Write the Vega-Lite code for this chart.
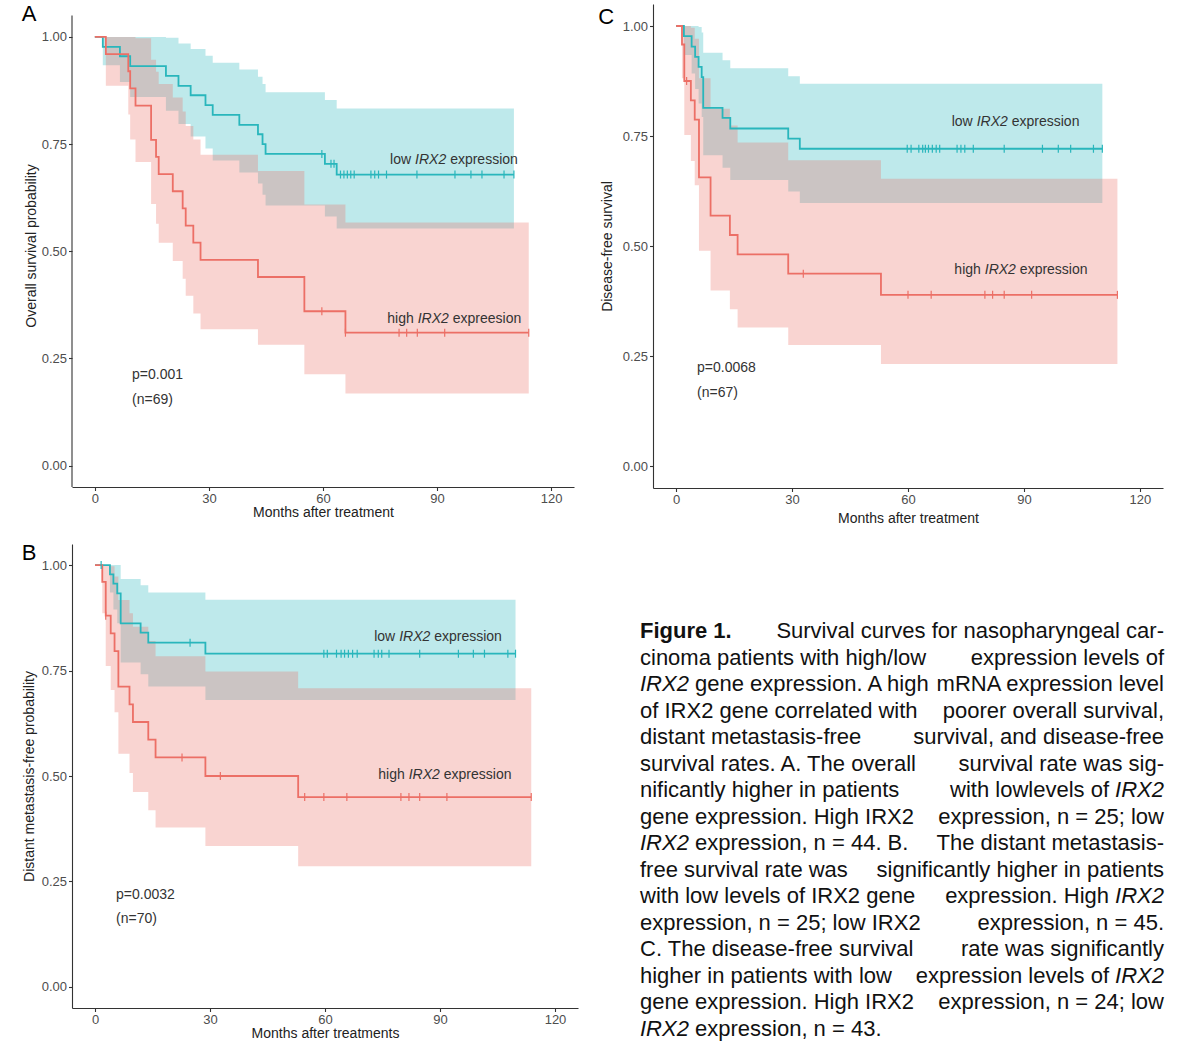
{
  "$schema": "https://vega.github.io/schema/vega-lite/v6.json",
  "background": "white",
  "padding": {"left": 21, "top": 2, "right": 5, "bottom": 5},
  "autosize": {"type": "pad"},
  "config": {
    "view": {"stroke": null},
    "axis": {"grid": false, "domainColor": "#333333", "domainWidth": 1.1, "tickColor": "#333333", "tickWidth": 1.1, "tickSize": 3.5,
      "labelFont": "Liberation Sans", "labelFontSize": 13, "labelColor": "#4d4d4d", "labelPadding": 2,
      "titleFont": "Liberation Sans", "titleFontSize": 14, "titleFontWeight": "normal", "titleColor": "#222222"},
    "text": {"font": "Liberation Sans"}
  },
  "datasets": {
    "km": [
      {"p":"A","g":"low","t":0,"s":1,"lo":1,"hi":1},
      {"p":"A","g":"low","t":2.1,"s":0.977,"lo":0.934,"hi":1},
      {"p":"A","g":"low","t":6.6,"s":0.955,"lo":0.895,"hi":1},
      {"p":"A","g":"low","t":9.3,"s":0.932,"lo":0.86,"hi":1},
      {"p":"A","g":"low","t":18.7,"s":0.909,"lo":0.828,"hi":0.998},
      {"p":"A","g":"low","t":22.0,"s":0.886,"lo":0.797,"hi":0.985},
      {"p":"A","g":"low","t":25.2,"s":0.864,"lo":0.768,"hi":0.972},
      {"p":"A","g":"low","t":29.1,"s":0.841,"lo":0.74,"hi":0.956},
      {"p":"A","g":"low","t":31.0,"s":0.818,"lo":0.712,"hi":0.94},
      {"p":"A","g":"low","t":38.0,"s":0.795,"lo":0.684,"hi":0.924},
      {"p":"A","g":"low","t":42.9,"s":0.773,"lo":0.658,"hi":0.907},
      {"p":"A","g":"low","t":44.1,"s":0.75,"lo":0.632,"hi":0.89},
      {"p":"A","g":"low","t":44.9,"s":0.727,"lo":0.607,"hi":0.871},
      {"p":"A","g":"low","t":60.5,"s":0.704,"lo":0.581,"hi":0.853},
      {"p":"A","g":"low","t":63.6,"s":0.679,"lo":0.553,"hi":0.833},
      {"p":"A","g":"low","t":110.2,"s":0.679,"lo":0.553,"hi":0.833},
      {"p":"A","g":"high","t":0,"s":1,"lo":1,"hi":1},
      {"p":"A","g":"high","t":2.9,"s":0.96,"lo":0.886,"hi":1},
      {"p":"A","g":"high","t":8.8,"s":0.92,"lo":0.819,"hi":1},
      {"p":"A","g":"high","t":9.3,"s":0.88,"lo":0.761,"hi":1},
      {"p":"A","g":"high","t":10.7,"s":0.84,"lo":0.708,"hi":0.997},
      {"p":"A","g":"high","t":14.8,"s":0.76,"lo":0.61,"hi":0.947},
      {"p":"A","g":"high","t":16.1,"s":0.72,"lo":0.564,"hi":0.919},
      {"p":"A","g":"high","t":16.8,"s":0.68,"lo":0.52,"hi":0.89},
      {"p":"A","g":"high","t":20.5,"s":0.64,"lo":0.477,"hi":0.859},
      {"p":"A","g":"high","t":23.1,"s":0.6,"lo":0.436,"hi":0.826},
      {"p":"A","g":"high","t":23.9,"s":0.56,"lo":0.396,"hi":0.792},
      {"p":"A","g":"high","t":25.9,"s":0.52,"lo":0.355,"hi":0.761},
      {"p":"A","g":"high","t":27.8,"s":0.48,"lo":0.318,"hi":0.725},
      {"p":"A","g":"high","t":42.9,"s":0.44,"lo":0.282,"hi":0.687},
      {"p":"A","g":"high","t":55.1,"s":0.36,"lo":0.213,"hi":0.609},
      {"p":"A","g":"high","t":65.9,"s":0.31,"lo":0.168,"hi":0.567},
      {"p":"A","g":"high","t":114.1,"s":0.31,"lo":0.168,"hi":0.567},
      {"p":"B","g":"low","t":0,"s":1,"lo":1,"hi":1},
      {"p":"B","g":"low","t":3.9,"s":0.978,"lo":0.935,"hi":1},
      {"p":"B","g":"low","t":4.8,"s":0.956,"lo":0.895,"hi":1},
      {"p":"B","g":"low","t":5.8,"s":0.933,"lo":0.862,"hi":1},
      {"p":"B","g":"low","t":6.7,"s":0.862,"lo":0.769,"hi":0.967},
      {"p":"B","g":"low","t":11.9,"s":0.84,"lo":0.741,"hi":0.952},
      {"p":"B","g":"low","t":13.9,"s":0.816,"lo":0.712,"hi":0.935},
      {"p":"B","g":"low","t":28.8,"s":0.79,"lo":0.68,"hi":0.918},
      {"p":"B","g":"low","t":109.7,"s":0.79,"lo":0.68,"hi":0.918},
      {"p":"B","g":"high","t":0,"s":1,"lo":1,"hi":1},
      {"p":"B","g":"high","t":1.9,"s":0.96,"lo":0.886,"hi":1},
      {"p":"B","g":"high","t":2.8,"s":0.88,"lo":0.761,"hi":1},
      {"p":"B","g":"high","t":4.1,"s":0.838,"lo":0.704,"hi":0.997},
      {"p":"B","g":"high","t":5.1,"s":0.796,"lo":0.651,"hi":0.973},
      {"p":"B","g":"high","t":6.1,"s":0.712,"lo":0.553,"hi":0.917},
      {"p":"B","g":"high","t":9.0,"s":0.67,"lo":0.507,"hi":0.886},
      {"p":"B","g":"high","t":9.9,"s":0.628,"lo":0.462,"hi":0.854},
      {"p":"B","g":"high","t":13.9,"s":0.586,"lo":0.419,"hi":0.82},
      {"p":"B","g":"high","t":15.8,"s":0.544,"lo":0.378,"hi":0.784},
      {"p":"B","g":"high","t":28.8,"s":0.5,"lo":0.334,"hi":0.748},
      {"p":"B","g":"high","t":53.0,"s":0.45,"lo":0.286,"hi":0.708},
      {"p":"B","g":"high","t":113.8,"s":0.45,"lo":0.286,"hi":0.708},
      {"p":"C","g":"low","t":0,"s":1,"lo":1,"hi":1},
      {"p":"C","g":"low","t":2.0,"s":0.977,"lo":0.934,"hi":1},
      {"p":"C","g":"low","t":4.0,"s":0.953,"lo":0.892,"hi":1},
      {"p":"C","g":"low","t":4.9,"s":0.93,"lo":0.857,"hi":1},
      {"p":"C","g":"low","t":5.8,"s":0.907,"lo":0.824,"hi":0.998},
      {"p":"C","g":"low","t":6.6,"s":0.884,"lo":0.793,"hi":0.985},
      {"p":"C","g":"low","t":7.0,"s":0.814,"lo":0.706,"hi":0.939},
      {"p":"C","g":"low","t":12.0,"s":0.791,"lo":0.678,"hi":0.922},
      {"p":"C","g":"low","t":14.0,"s":0.767,"lo":0.65,"hi":0.904},
      {"p":"C","g":"low","t":29.0,"s":0.744,"lo":0.624,"hi":0.886},
      {"p":"C","g":"low","t":32.0,"s":0.721,"lo":0.598,"hi":0.869},
      {"p":"C","g":"low","t":110.3,"s":0.721,"lo":0.598,"hi":0.869},
      {"p":"C","g":"high","t":0,"s":1,"lo":1,"hi":1},
      {"p":"C","g":"high","t":1.5,"s":0.958,"lo":0.881,"hi":1},
      {"p":"C","g":"high","t":2.1,"s":0.875,"lo":0.752,"hi":1},
      {"p":"C","g":"high","t":3.8,"s":0.831,"lo":0.693,"hi":0.996},
      {"p":"C","g":"high","t":4.8,"s":0.787,"lo":0.638,"hi":0.971},
      {"p":"C","g":"high","t":5.9,"s":0.656,"lo":0.489,"hi":0.881},
      {"p":"C","g":"high","t":8.9,"s":0.569,"lo":0.399,"hi":0.812},
      {"p":"C","g":"high","t":13.9,"s":0.525,"lo":0.356,"hi":0.774},
      {"p":"C","g":"high","t":15.9,"s":0.481,"lo":0.315,"hi":0.735},
      {"p":"C","g":"high","t":29.0,"s":0.437,"lo":0.275,"hi":0.695},
      {"p":"C","g":"high","t":53.0,"s":0.389,"lo":0.232,"hi":0.653},
      {"p":"C","g":"high","t":114.2,"s":0.389,"lo":0.232,"hi":0.653}
    ],
    "cens": [
      {"p":"A","g":"low","t":59.7,"s":0.727},
      {"p":"A","g":"low","t":62.1,"s":0.704},
      {"p":"A","g":"low","t":62.9,"s":0.704},
      {"p":"A","g":"low","t":64.6,"s":0.679},
      {"p":"A","g":"low","t":65.5,"s":0.679},
      {"p":"A","g":"low","t":66.4,"s":0.679},
      {"p":"A","g":"low","t":67.3,"s":0.679},
      {"p":"A","g":"low","t":68.2,"s":0.679},
      {"p":"A","g":"low","t":72.6,"s":0.679},
      {"p":"A","g":"low","t":73.6,"s":0.679},
      {"p":"A","g":"low","t":74.6,"s":0.679},
      {"p":"A","g":"low","t":76.7,"s":0.679},
      {"p":"A","g":"low","t":84.7,"s":0.679},
      {"p":"A","g":"low","t":94.7,"s":0.679},
      {"p":"A","g":"low","t":98.9,"s":0.679},
      {"p":"A","g":"low","t":101.8,"s":0.679},
      {"p":"A","g":"low","t":107.6,"s":0.679},
      {"p":"A","g":"low","t":110.2,"s":0.679},
      {"p":"A","g":"high","t":59.7,"s":0.36},
      {"p":"A","g":"high","t":65.9,"s":0.31},
      {"p":"A","g":"high","t":80.0,"s":0.31},
      {"p":"A","g":"high","t":82.0,"s":0.31},
      {"p":"A","g":"high","t":84.8,"s":0.31},
      {"p":"A","g":"high","t":92.0,"s":0.31},
      {"p":"A","g":"high","t":114.1,"s":0.31},
      {"p":"B","g":"low","t":1.6,"s":1},
      {"p":"B","g":"low","t":24.8,"s":0.816},
      {"p":"B","g":"low","t":59.7,"s":0.79},
      {"p":"B","g":"low","t":60.6,"s":0.79},
      {"p":"B","g":"low","t":63.0,"s":0.79},
      {"p":"B","g":"low","t":64.2,"s":0.79},
      {"p":"B","g":"low","t":65.1,"s":0.79},
      {"p":"B","g":"low","t":66.1,"s":0.79},
      {"p":"B","g":"low","t":67.2,"s":0.79},
      {"p":"B","g":"low","t":68.4,"s":0.79},
      {"p":"B","g":"low","t":72.8,"s":0.79},
      {"p":"B","g":"low","t":73.9,"s":0.79},
      {"p":"B","g":"low","t":74.8,"s":0.79},
      {"p":"B","g":"low","t":76.7,"s":0.79},
      {"p":"B","g":"low","t":84.7,"s":0.79},
      {"p":"B","g":"low","t":94.8,"s":0.79},
      {"p":"B","g":"low","t":98.7,"s":0.79},
      {"p":"B","g":"low","t":101.6,"s":0.79},
      {"p":"B","g":"low","t":107.7,"s":0.79},
      {"p":"B","g":"low","t":109.7,"s":0.79},
      {"p":"B","g":"high","t":2.8,"s":0.88},
      {"p":"B","g":"high","t":22.7,"s":0.544},
      {"p":"B","g":"high","t":32.7,"s":0.5},
      {"p":"B","g":"high","t":54.7,"s":0.45},
      {"p":"B","g":"high","t":59.7,"s":0.45},
      {"p":"B","g":"high","t":65.7,"s":0.45},
      {"p":"B","g":"high","t":79.8,"s":0.45},
      {"p":"B","g":"high","t":81.9,"s":0.45},
      {"p":"B","g":"high","t":84.7,"s":0.45},
      {"p":"B","g":"high","t":91.8,"s":0.45},
      {"p":"B","g":"high","t":113.8,"s":0.45},
      {"p":"C","g":"low","t":59.8,"s":0.721},
      {"p":"C","g":"low","t":60.8,"s":0.721},
      {"p":"C","g":"low","t":62.8,"s":0.721},
      {"p":"C","g":"low","t":63.8,"s":0.721},
      {"p":"C","g":"low","t":64.5,"s":0.721},
      {"p":"C","g":"low","t":65.3,"s":0.721},
      {"p":"C","g":"low","t":66.3,"s":0.721},
      {"p":"C","g":"low","t":67.3,"s":0.721},
      {"p":"C","g":"low","t":68.2,"s":0.721},
      {"p":"C","g":"low","t":72.7,"s":0.721},
      {"p":"C","g":"low","t":73.7,"s":0.721},
      {"p":"C","g":"low","t":74.7,"s":0.721},
      {"p":"C","g":"low","t":76.9,"s":0.721},
      {"p":"C","g":"low","t":84.9,"s":0.721},
      {"p":"C","g":"low","t":94.8,"s":0.721},
      {"p":"C","g":"low","t":98.9,"s":0.721},
      {"p":"C","g":"low","t":102.1,"s":0.721},
      {"p":"C","g":"low","t":108.0,"s":0.721},
      {"p":"C","g":"low","t":110.3,"s":0.721},
      {"p":"C","g":"high","t":2.7,"s":0.875},
      {"p":"C","g":"high","t":32.9,"s":0.437},
      {"p":"C","g":"high","t":60.0,"s":0.389},
      {"p":"C","g":"high","t":66.0,"s":0.389},
      {"p":"C","g":"high","t":79.9,"s":0.389},
      {"p":"C","g":"high","t":81.9,"s":0.389},
      {"p":"C","g":"high","t":84.9,"s":0.389},
      {"p":"C","g":"high","t":92.0,"s":0.389},
      {"p":"C","g":"high","t":114.2,"s":0.389}
    ],
    "lab": [
      {"p":"A","t":88.3,"s":0.712,"pre":"low","post":"expression"},
      {"p":"A","t":89.0,"s":0.343,"pre":"high","post":"expreesion"},
      {"p":"B","t":83.4,"s":0.829,"pre":"low","post":"expression"},
      {"p":"B","t":85.9,"s":0.502,"pre":"high","post":"expression"},
      {"p":"C","t":81.8,"s":0.782,"pre":"low","post":"expression"},
      {"p":"C","t":83.9,"s":0.445,"pre":"high","post":"expression"}
    ],
    "pv": [
      {"p":"A","t":9.8,"s":0.212,"text":"p=0.001"},
      {"p":"A","t":9.8,"s":0.154,"text":"(n=69)"},
      {"p":"B","t":5.5,"s":0.218,"text":"p=0.0032"},
      {"p":"B","t":5.5,"s":0.161,"text":"(n=70)"},
      {"p":"C","t":5.4,"s":0.223,"text":"p=0.0068"},
      {"p":"C","t":5.4,"s":0.166,"text":"(n=67)"}
    ],
    "let": [
      {"p":"A","t":-17.3,"s":1.054,"text":"A"},
      {"p":"B","t":-17.2,"s":1.028,"text":"B"},
      {"p":"C","t":-18.1,"s":1.02,"text":"C"}
    ],
    "capB": [{"line":1,"text":"Figure 1."}],
    "capL": [
      {"line":2,"text":"cinoma patients with high/low"},
      {"line":4,"text":"of IRX2 gene correlated with"},
      {"line":5,"text":"distant metastasis-free"},
      {"line":6,"text":"survival rates. A. The overall"},
      {"line":7,"text":"nificantly higher in patients"},
      {"line":8,"text":"gene expression. High IRX2"},
      {"line":10,"text":"free survival rate was"},
      {"line":11,"text":"with low levels of IRX2 gene"},
      {"line":12,"text":"expression, n = 25; low IRX2"},
      {"line":13,"text":"C. The disease-free survival"},
      {"line":14,"text":"higher in patients with low"},
      {"line":15,"text":"gene expression. High IRX2"}
    ],
    "capR": [
      {"line":1,"text":"Survival curves for nasopharyngeal car-"},
      {"line":2,"text":"expression levels of"},
      {"line":3,"text":"mRNA expression level"},
      {"line":4,"text":"poorer overall survival,"},
      {"line":5,"text":"survival, and disease-free"},
      {"line":6,"text":"survival rate was sig-"},
      {"line":8,"text":"expression, n = 25; low"},
      {"line":9,"text":"The distant metastasis-"},
      {"line":10,"text":"significantly higher in patients"},
      {"line":12,"text":"expression, n = 45."},
      {"line":13,"text":"rate was significantly"},
      {"line":15,"text":"expression, n = 24; low"}
    ],
    "capLI": [{"line":3,"text":"IRX2"},{"line":9,"text":"IRX2"},{"line":16,"text":"IRX2"}],
    "capL2": [
      {"line":3,"text":"gene expression. A high"},
      {"line":9,"text":"expression, n = 44. B."},
      {"line":16,"text":"expression, n = 43."}
    ],
    "capR2": [
      {"line":7,"text":"with lowlevels of"},
      {"line":11,"text":"expression. High"},
      {"line":14,"text":"expression levels of"}
    ],
    "capRI": [{"line":7,"text":"IRX2"},{"line":11,"text":"IRX2"},{"line":14,"text":"IRX2"}]
  },
  "vconcat": [
    {
      "hconcat": [
        {
          "width": 502, "height": 483,
          "layer": [
            {"data": {"name": "km"}, "transform": [{"filter": "datum.p == 'A'"}],
             "mark": {"type": "area", "interpolate": "step-after", "fillOpacity": 0.3, "strokeWidth": 0},
             "encoding": {
               "x": {"field": "t", "type": "quantitative", "scale": {"domain": [-6, 126], "nice": false, "zero": false},
                     "axis": {"values": [0, 30, 60, 90, 120], "title": "Months after treatment", "titlePadding": 0}},
               "y": {"field": "lo", "type": "quantitative", "scale": {"domain": [-0.05, 1.0769], "nice": false, "zero": false},
                     "axis": {"values": [0, 0.25, 0.5, 0.75, 1], "format": ".2f", "domain": false, "title": "Overall survival probability", "titlePadding": 3}},
               "y2": {"field": "hi"},
               "color": {"field": "g", "type": "nominal", "scale": {"domain": ["high", "low"], "range": ["#EC6F66", "#29B6BC"]}, "legend": null}}},
            {"data": {"name": "km"}, "transform": [{"filter": "datum.p == 'A'"}],
             "mark": {"type": "line", "interpolate": "step-after", "strokeWidth": 1.8},
             "encoding": {
               "x": {"field": "t", "type": "quantitative", "scale": {"domain": [-6, 126], "nice": false, "zero": false}},
               "y": {"field": "s", "type": "quantitative", "scale": {"domain": [-0.05, 1.0769], "nice": false, "zero": false}},
               "color": {"field": "g", "type": "nominal", "scale": {"domain": ["high", "low"], "range": ["#EC6F66", "#29B6BC"]}, "legend": null}}},
            {"data": {"name": "cens"}, "transform": [{"filter": "datum.p == 'A'"}],
             "mark": {"type": "tick", "orient": "vertical", "size": 8, "thickness": 1.2, "opacity": 1},
             "encoding": {
               "x": {"field": "t", "type": "quantitative", "scale": {"domain": [-6, 126], "nice": false, "zero": false}},
               "y": {"field": "s", "type": "quantitative", "scale": {"domain": [-0.05, 1.0769], "nice": false, "zero": false}},
               "color": {"field": "g", "type": "nominal", "scale": {"domain": ["high", "low"], "range": ["#EC6F66", "#29B6BC"]}, "legend": null}}},
            {"data": {"name": "lab"}, "transform": [{"filter": "datum.p == 'A'"}],
             "mark": {"type": "text", "align": "right", "baseline": "middle", "dx": -19.5, "fontSize": 14, "color": "#333333"},
             "encoding": {
               "x": {"field": "t", "type": "quantitative", "scale": {"domain": [-6, 126], "nice": false, "zero": false}},
               "y": {"field": "s", "type": "quantitative", "scale": {"domain": [-0.05, 1.0769], "nice": false, "zero": false}},
               "text": {"field": "pre"}}},
            {"data": {"name": "lab"}, "transform": [{"filter": "datum.p == 'A'"}],
             "mark": {"type": "text", "align": "center", "baseline": "middle", "fontSize": 14, "fontStyle": "italic", "color": "#333333", "text": "IRX2"},
             "encoding": {
               "x": {"field": "t", "type": "quantitative", "scale": {"domain": [-6, 126], "nice": false, "zero": false}},
               "y": {"field": "s", "type": "quantitative", "scale": {"domain": [-0.05, 1.0769], "nice": false, "zero": false}}}},
            {"data": {"name": "lab"}, "transform": [{"filter": "datum.p == 'A'"}],
             "mark": {"type": "text", "align": "left", "baseline": "middle", "dx": 19.5, "fontSize": 14, "color": "#333333"},
             "encoding": {
               "x": {"field": "t", "type": "quantitative", "scale": {"domain": [-6, 126], "nice": false, "zero": false}},
               "y": {"field": "s", "type": "quantitative", "scale": {"domain": [-0.05, 1.0769], "nice": false, "zero": false}},
               "text": {"field": "post"}}},
            {"data": {"name": "pv"}, "transform": [{"filter": "datum.p == 'A'"}],
             "mark": {"type": "text", "align": "left", "baseline": "middle", "fontSize": 14, "color": "#333333"},
             "encoding": {
               "x": {"field": "t", "type": "quantitative", "scale": {"domain": [-6, 126], "nice": false, "zero": false}},
               "y": {"field": "s", "type": "quantitative", "scale": {"domain": [-0.05, 1.0769], "nice": false, "zero": false}},
               "text": {"field": "text"}}},
            {"data": {"name": "let"}, "transform": [{"filter": "datum.p == 'A'"}],
             "mark": {"type": "text", "align": "center", "baseline": "middle", "fontSize": 22, "color": "#000000"},
             "encoding": {
               "x": {"field": "t", "type": "quantitative", "scale": {"domain": [-6, 126], "nice": false, "zero": false}},
               "y": {"field": "s", "type": "quantitative", "scale": {"domain": [-0.05, 1.0769], "nice": false, "zero": false}},
               "text": {"field": "text"}}},
            {"data": {"values": [{}]},
             "mark": {"type": "rule", "color": "#333333", "strokeWidth": 1.1},
             "encoding": {
               "x": {"datum": -6, "type": "quantitative", "scale": {"domain": [-6, 126], "nice": false, "zero": false}},
               "y": {"datum": -0.05, "type": "quantitative", "scale": {"domain": [-0.05, 1.0769], "nice": false, "zero": false}},
               "y2": {"datum": 1.05}}}
          ]
        },
        {
          "width": 510, "height": 484,
          "layer": [
            {"data": {"name": "km"}, "transform": [{"filter": "datum.p == 'C'"}],
             "mark": {"type": "area", "interpolate": "step-after", "fillOpacity": 0.3, "strokeWidth": 0},
             "encoding": {
               "x": {"field": "t", "type": "quantitative", "scale": {"domain": [-6, 126], "nice": false, "zero": false},
                     "axis": {"values": [0, 30, 60, 90, 120], "title": "Months after treatment", "titlePadding": 5}},
               "y": {"field": "lo", "type": "quantitative", "scale": {"domain": [-0.05, 1.05], "nice": false, "zero": false},
                     "axis": {"values": [0, 0.25, 0.5, 0.75, 1], "format": ".2f", "title": "Disease-free survival", "titlePadding": 8}},
               "y2": {"field": "hi"},
               "color": {"field": "g", "type": "nominal", "scale": {"domain": ["high", "low"], "range": ["#EC6F66", "#29B6BC"]}, "legend": null}}},
            {"data": {"name": "km"}, "transform": [{"filter": "datum.p == 'C'"}],
             "mark": {"type": "line", "interpolate": "step-after", "strokeWidth": 1.8},
             "encoding": {
               "x": {"field": "t", "type": "quantitative", "scale": {"domain": [-6, 126], "nice": false, "zero": false}},
               "y": {"field": "s", "type": "quantitative", "scale": {"domain": [-0.05, 1.05], "nice": false, "zero": false}},
               "color": {"field": "g", "type": "nominal", "scale": {"domain": ["high", "low"], "range": ["#EC6F66", "#29B6BC"]}, "legend": null}}},
            {"data": {"name": "cens"}, "transform": [{"filter": "datum.p == 'C'"}],
             "mark": {"type": "tick", "orient": "vertical", "size": 8, "thickness": 1.2, "opacity": 1},
             "encoding": {
               "x": {"field": "t", "type": "quantitative", "scale": {"domain": [-6, 126], "nice": false, "zero": false}},
               "y": {"field": "s", "type": "quantitative", "scale": {"domain": [-0.05, 1.05], "nice": false, "zero": false}},
               "color": {"field": "g", "type": "nominal", "scale": {"domain": ["high", "low"], "range": ["#EC6F66", "#29B6BC"]}, "legend": null}}},
            {"data": {"name": "lab"}, "transform": [{"filter": "datum.p == 'C'"}],
             "mark": {"type": "text", "align": "right", "baseline": "middle", "dx": -19.5, "fontSize": 14, "color": "#333333"},
             "encoding": {
               "x": {"field": "t", "type": "quantitative", "scale": {"domain": [-6, 126], "nice": false, "zero": false}},
               "y": {"field": "s", "type": "quantitative", "scale": {"domain": [-0.05, 1.05], "nice": false, "zero": false}},
               "text": {"field": "pre"}}},
            {"data": {"name": "lab"}, "transform": [{"filter": "datum.p == 'C'"}],
             "mark": {"type": "text", "align": "center", "baseline": "middle", "fontSize": 14, "fontStyle": "italic", "color": "#333333", "text": "IRX2"},
             "encoding": {
               "x": {"field": "t", "type": "quantitative", "scale": {"domain": [-6, 126], "nice": false, "zero": false}},
               "y": {"field": "s", "type": "quantitative", "scale": {"domain": [-0.05, 1.05], "nice": false, "zero": false}}}},
            {"data": {"name": "lab"}, "transform": [{"filter": "datum.p == 'C'"}],
             "mark": {"type": "text", "align": "left", "baseline": "middle", "dx": 19.5, "fontSize": 14, "color": "#333333"},
             "encoding": {
               "x": {"field": "t", "type": "quantitative", "scale": {"domain": [-6, 126], "nice": false, "zero": false}},
               "y": {"field": "s", "type": "quantitative", "scale": {"domain": [-0.05, 1.05], "nice": false, "zero": false}},
               "text": {"field": "post"}}},
            {"data": {"name": "pv"}, "transform": [{"filter": "datum.p == 'C'"}],
             "mark": {"type": "text", "align": "left", "baseline": "middle", "fontSize": 14, "color": "#333333"},
             "encoding": {
               "x": {"field": "t", "type": "quantitative", "scale": {"domain": [-6, 126], "nice": false, "zero": false}},
               "y": {"field": "s", "type": "quantitative", "scale": {"domain": [-0.05, 1.05], "nice": false, "zero": false}},
               "text": {"field": "text"}}},
            {"data": {"name": "let"}, "transform": [{"filter": "datum.p == 'C'"}],
             "mark": {"type": "text", "align": "center", "baseline": "middle", "fontSize": 22, "color": "#000000"},
             "encoding": {
               "x": {"field": "t", "type": "quantitative", "scale": {"domain": [-6, 126], "nice": false, "zero": false}},
               "y": {"field": "s", "type": "quantitative", "scale": {"domain": [-0.05, 1.05], "nice": false, "zero": false}},
               "text": {"field": "text"}}}
          ]
        }
      ],
      "spacing": 24
    },
    {
      "hconcat": [
        {
          "width": 506, "height": 464,
          "layer": [
            {"data": {"name": "km"}, "transform": [{"filter": "datum.p == 'B'"}],
             "mark": {"type": "area", "interpolate": "step-after", "fillOpacity": 0.3, "strokeWidth": 0},
             "encoding": {
               "x": {"field": "t", "type": "quantitative", "scale": {"domain": [-6, 126], "nice": false, "zero": false},
                     "axis": {"values": [0, 30, 60, 90, 120], "title": "Months after treatments", "titlePadding": 0}},
               "y": {"field": "lo", "type": "quantitative", "scale": {"domain": [-0.05, 1.05], "nice": false, "zero": false},
                     "axis": {"values": [0, 0.25, 0.5, 0.75, 1], "format": ".2f", "title": "Distant metastasis-free probability", "titlePadding": 5}},
               "y2": {"field": "hi"},
               "color": {"field": "g", "type": "nominal", "scale": {"domain": ["high", "low"], "range": ["#EC6F66", "#29B6BC"]}, "legend": null}}},
            {"data": {"name": "km"}, "transform": [{"filter": "datum.p == 'B'"}],
             "mark": {"type": "line", "interpolate": "step-after", "strokeWidth": 1.8},
             "encoding": {
               "x": {"field": "t", "type": "quantitative", "scale": {"domain": [-6, 126], "nice": false, "zero": false}},
               "y": {"field": "s", "type": "quantitative", "scale": {"domain": [-0.05, 1.05], "nice": false, "zero": false}},
               "color": {"field": "g", "type": "nominal", "scale": {"domain": ["high", "low"], "range": ["#EC6F66", "#29B6BC"]}, "legend": null}}},
            {"data": {"name": "cens"}, "transform": [{"filter": "datum.p == 'B'"}],
             "mark": {"type": "tick", "orient": "vertical", "size": 8, "thickness": 1.2, "opacity": 1},
             "encoding": {
               "x": {"field": "t", "type": "quantitative", "scale": {"domain": [-6, 126], "nice": false, "zero": false}},
               "y": {"field": "s", "type": "quantitative", "scale": {"domain": [-0.05, 1.05], "nice": false, "zero": false}},
               "color": {"field": "g", "type": "nominal", "scale": {"domain": ["high", "low"], "range": ["#EC6F66", "#29B6BC"]}, "legend": null}}},
            {"data": {"name": "lab"}, "transform": [{"filter": "datum.p == 'B'"}],
             "mark": {"type": "text", "align": "right", "baseline": "middle", "dx": -19.5, "fontSize": 14, "color": "#333333"},
             "encoding": {
               "x": {"field": "t", "type": "quantitative", "scale": {"domain": [-6, 126], "nice": false, "zero": false}},
               "y": {"field": "s", "type": "quantitative", "scale": {"domain": [-0.05, 1.05], "nice": false, "zero": false}},
               "text": {"field": "pre"}}},
            {"data": {"name": "lab"}, "transform": [{"filter": "datum.p == 'B'"}],
             "mark": {"type": "text", "align": "center", "baseline": "middle", "fontSize": 14, "fontStyle": "italic", "color": "#333333", "text": "IRX2"},
             "encoding": {
               "x": {"field": "t", "type": "quantitative", "scale": {"domain": [-6, 126], "nice": false, "zero": false}},
               "y": {"field": "s", "type": "quantitative", "scale": {"domain": [-0.05, 1.05], "nice": false, "zero": false}}}},
            {"data": {"name": "lab"}, "transform": [{"filter": "datum.p == 'B'"}],
             "mark": {"type": "text", "align": "left", "baseline": "middle", "dx": 19.5, "fontSize": 14, "color": "#333333"},
             "encoding": {
               "x": {"field": "t", "type": "quantitative", "scale": {"domain": [-6, 126], "nice": false, "zero": false}},
               "y": {"field": "s", "type": "quantitative", "scale": {"domain": [-0.05, 1.05], "nice": false, "zero": false}},
               "text": {"field": "post"}}},
            {"data": {"name": "pv"}, "transform": [{"filter": "datum.p == 'B'"}],
             "mark": {"type": "text", "align": "left", "baseline": "middle", "fontSize": 14, "color": "#333333"},
             "encoding": {
               "x": {"field": "t", "type": "quantitative", "scale": {"domain": [-6, 126], "nice": false, "zero": false}},
               "y": {"field": "s", "type": "quantitative", "scale": {"domain": [-0.05, 1.05], "nice": false, "zero": false}},
               "text": {"field": "text"}}},
            {"data": {"name": "let"}, "transform": [{"filter": "datum.p == 'B'"}],
             "mark": {"type": "text", "align": "center", "baseline": "middle", "fontSize": 22, "color": "#000000"},
             "encoding": {
               "x": {"field": "t", "type": "quantitative", "scale": {"domain": [-6, 126], "nice": false, "zero": false}},
               "y": {"field": "s", "type": "quantitative", "scale": {"domain": [-0.05, 1.05], "nice": false, "zero": false}},
               "text": {"field": "text"}}}
          ]
        },
        {
          "width": 524, "height": 500,
          "layer": [
            {"data": {"name": "capB"},
             "mark": {"type": "text", "align": "left", "baseline": "middle", "fontSize": 22, "fontWeight": "bold", "color": "#111111"},
             "encoding": {
               "x": {"datum": 0, "type": "quantitative", "scale": {"domain": [0, 1], "nice": false, "zero": false}, "axis": null},
               "y": {"field": "line", "type": "quantitative", "scale": {"domain": [-2.279, 16.567], "nice": false, "zero": false, "reverse": true}, "axis": null},
               "text": {"field": "text"}}},
            {"data": {"name": "capL"},
             "mark": {"type": "text", "align": "left", "baseline": "middle", "fontSize": 22, "color": "#111111"},
             "encoding": {
               "x": {"datum": 0, "type": "quantitative", "scale": {"domain": [0, 1], "nice": false, "zero": false}, "axis": null},
               "y": {"field": "line", "type": "quantitative", "scale": {"domain": [-2.279, 16.567], "nice": false, "zero": false, "reverse": true}, "axis": null},
               "text": {"field": "text"}}},
            {"data": {"name": "capR"},
             "mark": {"type": "text", "align": "right", "baseline": "middle", "fontSize": 22, "color": "#111111"},
             "encoding": {
               "x": {"datum": 1, "type": "quantitative", "scale": {"domain": [0, 1], "nice": false, "zero": false}, "axis": null},
               "y": {"field": "line", "type": "quantitative", "scale": {"domain": [-2.279, 16.567], "nice": false, "zero": false, "reverse": true}, "axis": null},
               "text": {"field": "text"}}},
            {"data": {"name": "capLI"},
             "mark": {"type": "text", "align": "left", "baseline": "middle", "fontSize": 22, "fontStyle": "italic", "color": "#111111"},
             "encoding": {
               "x": {"datum": 0, "type": "quantitative", "scale": {"domain": [0, 1], "nice": false, "zero": false}, "axis": null},
               "y": {"field": "line", "type": "quantitative", "scale": {"domain": [-2.279, 16.567], "nice": false, "zero": false, "reverse": true}, "axis": null},
               "text": {"field": "text"}}},
            {"data": {"name": "capL2"},
             "mark": {"type": "text", "align": "left", "baseline": "middle", "dx": 55, "fontSize": 22, "color": "#111111"},
             "encoding": {
               "x": {"datum": 0, "type": "quantitative", "scale": {"domain": [0, 1], "nice": false, "zero": false}, "axis": null},
               "y": {"field": "line", "type": "quantitative", "scale": {"domain": [-2.279, 16.567], "nice": false, "zero": false, "reverse": true}, "axis": null},
               "text": {"field": "text"}}},
            {"data": {"name": "capR2"},
             "mark": {"type": "text", "align": "right", "baseline": "middle", "dx": -55, "fontSize": 22, "color": "#111111"},
             "encoding": {
               "x": {"datum": 1, "type": "quantitative", "scale": {"domain": [0, 1], "nice": false, "zero": false}, "axis": null},
               "y": {"field": "line", "type": "quantitative", "scale": {"domain": [-2.279, 16.567], "nice": false, "zero": false, "reverse": true}, "axis": null},
               "text": {"field": "text"}}},
            {"data": {"name": "capRI"},
             "mark": {"type": "text", "align": "right", "baseline": "middle", "fontSize": 22, "fontStyle": "italic", "color": "#111111"},
             "encoding": {
               "x": {"datum": 1, "type": "quantitative", "scale": {"domain": [0, 1], "nice": false, "zero": false}, "axis": null},
               "y": {"field": "line", "type": "quantitative", "scale": {"domain": [-2.279, 16.567], "nice": false, "zero": false, "reverse": true}, "axis": null},
               "text": {"field": "text"}}}
          ]
        }
      ],
      "spacing": 62
    }
  ],
  "spacing": 16
}
